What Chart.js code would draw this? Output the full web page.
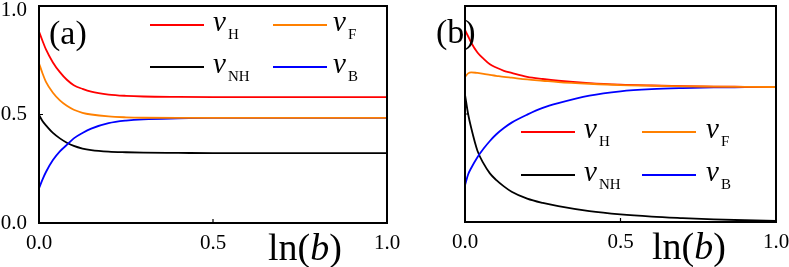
<!DOCTYPE html>
<html><head><meta charset="utf-8">
<script src="https://cdn.jsdelivr.net/npm/chart.js@4.4.1/dist/chart.umd.min.js"></script>
<style>
html,body{margin:0;padding:0;background:#fff;}
#wrap{position:relative;width:789px;height:267px;overflow:hidden;background:#fff;}
canvas{position:absolute;top:0;}
.t{position:absolute;font-family:'Liberation Serif','Times New Roman',serif;color:#000;white-space:nowrap;line-height:1;}
.ll{position:absolute;height:0;width:54px;border-top:2px solid;}
.v{font-style:italic;font-size:29px;}
.s{font-style:normal;font-size:15px;position:relative;top:8px;margin-left:2px;}
.pl{font-size:34px;}
.ax{font-size:38px;}
</style></head>
<body><div id="wrap">
<canvas id="ca" width="410" height="267" style="left:0;width:410px;height:267px"></canvas>
<canvas id="cb" width="389" height="267" style="left:400px;width:389px;height:267px"></canvas>

<div class="t pl" style="left:49px;top:16px">(a)</div>
<div class="t pl" style="left:436px;top:15px">(b)</div>
<div class="t ax" style="left:268px;top:228px">ln(<i>b</i>)</div>
<div class="t ax" style="left:652px;top:227px">ln(<i>b</i>)</div>

<div class="ll" style="left:150px;top:24px;border-color:#ff0000"></div>
<div class="ll" style="left:273px;top:24px;border-color:#ff8000"></div>
<div class="ll" style="left:150px;top:66px;border-color:#000000"></div>
<div class="ll" style="left:273px;top:66px;border-color:#0000ff"></div>
<div class="t v" style="left:213px;top:7px">v<span class="s">H</span></div>
<div class="t v" style="left:333px;top:7px">v<span class="s">F</span></div>
<div class="t v" style="left:213px;top:49px">v<span class="s">NH</span></div>
<div class="t v" style="left:333px;top:49px">v<span class="s">B</span></div>

<div class="ll" style="left:521px;top:131px;border-color:#ff0000"></div>
<div class="ll" style="left:642px;top:131px;border-color:#ff8000"></div>
<div class="ll" style="left:521px;top:174px;border-color:#000000"></div>
<div class="ll" style="left:642px;top:174px;border-color:#0000ff"></div>
<div class="t v" style="left:584px;top:114px">v<span class="s">H</span></div>
<div class="t v" style="left:706px;top:114px">v<span class="s">F</span></div>
<div class="t v" style="left:584px;top:157px">v<span class="s">NH</span></div>
<div class="t v" style="left:706px;top:157px">v<span class="s">B</span></div>
</div>
<script>
const xValues = [0, 0.01, 0.02, 0.04, 0.06, 0.08, 0.1, 0.125, 0.15, 0.2, 0.25, 0.3, 0.4, 0.5, 0.6, 0.7, 0.8, 0.9, 1.0];

const aH  = [0.882,0.84,0.80,0.74,0.695,0.66,0.635,0.618,0.605,0.592,0.586,0.583,0.581,0.58,0.58,0.58,0.58,0.58,0.58];
const aF  = [0.736,0.69,0.65,0.60,0.565,0.54,0.522,0.508,0.50,0.491,0.487,0.485,0.484,0.484,0.484,0.484,0.484,0.484,0.484];
const aNH = [0.498,0.47,0.45,0.415,0.39,0.37,0.355,0.343,0.336,0.329,0.326,0.324,0.323,0.322,0.322,0.322,0.322,0.322,0.322];
const aB  = [0.16,0.20,0.235,0.29,0.33,0.36,0.39,0.415,0.435,0.46,0.472,0.478,0.482,0.484,0.484,0.484,0.484,0.484,0.484];

const bH  = [0.889,0.86,0.83,0.785,0.755,0.73,0.715,0.70,0.69,0.672,0.662,0.654,0.643,0.636,0.632,0.629,0.627,0.626,0.625];
const bF  = [0.672,0.688,0.693,0.69,0.686,0.681,0.677,0.672,0.668,0.66,0.654,0.648,0.64,0.634,0.631,0.628,0.627,0.626,0.625];
const bNH = [0.59,0.5,0.435,0.33,0.27,0.225,0.195,0.165,0.14,0.108,0.088,0.073,0.05,0.035,0.025,0.018,0.012,0.008,0.005];
const bB  = [0.17,0.22,0.25,0.30,0.34,0.375,0.405,0.435,0.46,0.497,0.528,0.55,0.585,0.605,0.615,0.62,0.623,0.624,0.625];

const xTickValues = [0, 0.5, 1];
const xTickLabels = ['0.0', '0.5', '1.0'];
const yTickValues = [0, 0.5, 1];
const yTickLabels = ['0.0', '0.5', '1.0'];

const FONT = "'Liberation Serif','Times New Roman',serif";

const framePlugin = {
  id: 'frame',
  afterDatasetsDraw(chart) {
    const {ctx, chartArea: a, scales} = chart;
    ctx.save();
    ctx.strokeStyle = '#000';
    ctx.lineWidth = 2;
    ctx.strokeRect(a.left, a.top, a.right - a.left, a.bottom - a.top);
    ctx.lineWidth = 1.2;
    ctx.beginPath();
    const px = scales.x.getPixelForValue(0.5);
    ctx.moveTo(px, a.bottom); ctx.lineTo(px, a.bottom - 4);
    const py = scales.y.getPixelForValue(0.5);
    ctx.moveTo(a.left, py); ctx.lineTo(a.left + 4, py);
    ctx.stroke();
    ctx.restore();
  }
};

function ds(label, vals, color) {
  return {
    label, data: xValues.map((x, i) => ({x, y: vals[i]})),
    borderColor: color, backgroundColor: color, borderWidth: 1.8,
    pointRadius: 0, cubicInterpolationMode: 'monotone', fill: false
  };
}

function makeChart(id, H, F, NH, B, showY, pad, xHeight) {
  return new Chart(document.getElementById(id), {
    type: 'line',
    data: { datasets: [
      ds('vF', F, '#ff8000'),
      ds('vH', H, '#ff0000'),
      ds('vB', B, '#0000ff'),
      ds('vNH', NH, '#000000')
    ]},
    options: {
      responsive: false, animation: false, devicePixelRatio: 1,
      layout: { padding: pad },
      plugins: { legend: {display: false}, tooltip: {enabled: false} },
      scales: {
        x: {
          type: 'linear', min: 0, max: 1,
          afterBuildTicks: s => { s.ticks = xTickValues.map(v => ({value: v})); },
          ticks: { callback: (v, i) => xTickLabels[i], font: {family: FONT, size: 21}, color: '#000', padding: 8, maxRotation: 0, autoSkip: false },
          grid: { display: false, drawTicks: false },
          border: { display: false },
          afterFit: s => { s.height = xHeight; s.paddingLeft = 0; s.paddingRight = 0; }
        },
        y: {
          display: showY, min: 0, max: 1,
          afterBuildTicks: s => { s.ticks = yTickValues.map(v => ({value: v})); },
          ticks: {
            callback: (v, i) => (i === yTickLabels.length - 1 ? ['', yTickLabels[i]] : yTickLabels[i]),
            font: ctx => (ctx.tick && ctx.tick.value === 1 ? {family: FONT, size: 21, lineHeight: 0.4} : {family: FONT, size: 21}),
            color: '#000', padding: 12, autoSkip: false
          },
          grid: { display: false, drawTicks: false },
          border: { display: false },
          afterFit: s => { s.width = 39; s.paddingTop = 0; s.paddingBottom = 0; }
        }
      }
    },
    plugins: [framePlugin]
  });
}

makeChart('ca', aH, aF, aNH, aB, true, {left: 0, right: 23, top: 6, bottom: 0}, 44);
makeChart('cb', bH, bF, bNH, bB, false, {left: 26, right: 13, top: 6, bottom: 0}, 45);
</script>
</body></html>
